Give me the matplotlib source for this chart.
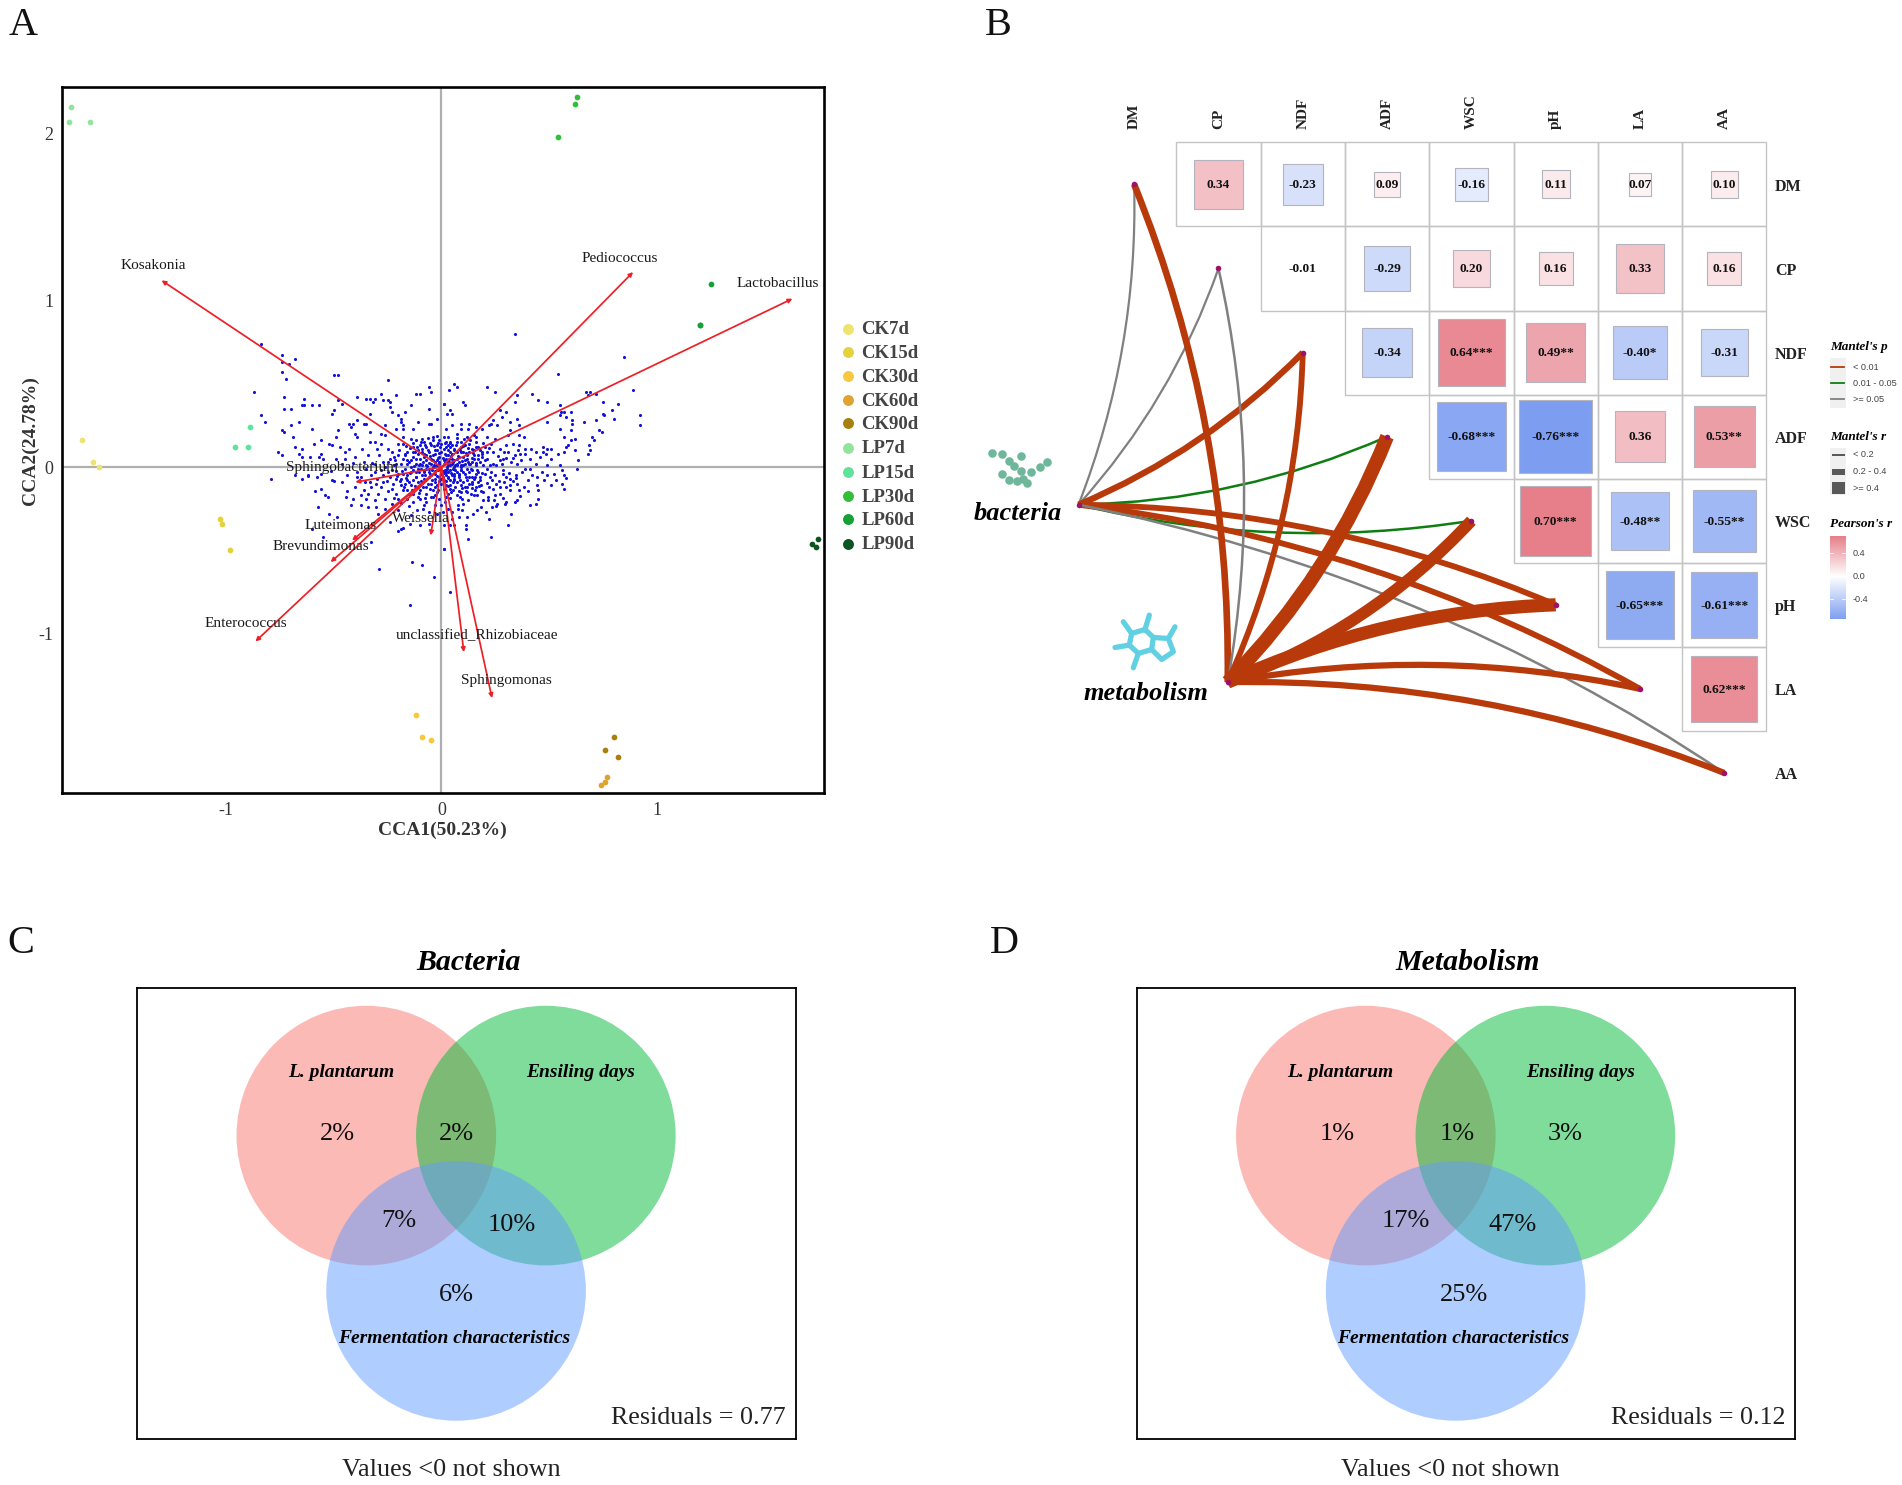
import numpy as np
import matplotlib
matplotlib.use("Agg")
import matplotlib.pyplot as plt
from matplotlib.patches import Rectangle, Circle, PathPatch
from matplotlib.path import Path
from matplotlib.colors import LinearSegmentedColormap, TwoSlopeNorm

plt.rcParams['font.family'] = ['Liberation Serif', 'DejaVu Serif']
plt.rcParams['axes.unicode_minus'] = False

# ------------------------------ Panel A data ------------------------------
groups = ['CK7d', 'CK15d', 'CK30d', 'CK60d', 'CK90d', 'LP7d', 'LP15d', 'LP30d', 'LP60d', 'LP90d']
group_colors = ['#EEE36F', '#E5D13A', '#F8C840', '#E0A32E', '#A67F10',
                '#92E49B', '#5FE39A', '#33BE3A', '#17A035', '#0C5420']
sample_x = [[-1.67, -1.62, -1.59], [-1.03, -1.02, -0.98], [-0.12, -0.09, -0.05],
            [0.74, 0.76, 0.77], [0.80, 0.76, 0.82], [-1.73, -1.72, -1.63],
            [-0.96, -0.90, -0.89], [0.54, 0.62, 0.63], [1.25, 1.20, 1.20], [1.72, 1.75, 1.74]]
sample_y = [[0.16, 0.03, 0.0], [-0.31, -0.34, -0.50], [-1.49, -1.62, -1.64],
            [-1.91, -1.89, -1.86], [-1.62, -1.70, -1.74], [2.07, 2.16, 2.07],
            [0.12, 0.12, 0.24], [1.98, 2.18, 2.22], [1.10, 0.85, 0.85], [-0.46, -0.43, -0.48]]

genera = ['Kosakonia', 'Pediococcus', 'Lactobacillus', 'Sphingobacterium', 'Luteimonas',
          'Brevundimonas', 'Enterococcus', 'Weissella', 'unclassified_Rhizobiaceae', 'Sphingomonas']
genus_x = [-1.30, 0.89, 1.63, -0.40, -0.415, -0.515, -0.864, -0.05, 0.104, 0.235]
genus_y = [1.12, 1.17, 1.01, -0.09, -0.44, -0.57, -1.046, -0.41, -1.11, -1.386]
label_x = [-1.34, 0.83, 1.56, -0.46, -0.47, -0.56, -0.91, -0.095, 0.165, 0.30]
label_y = [1.21, 1.25, 1.10, 0.0, -0.35, -0.475, -0.94, -0.31, -1.01, -1.28]

otu_upper_left = [
(-0.84,0.74),(-0.74,0.67),(-0.74,0.63),(-0.68,0.65),(-0.71,0.62),(-0.74,0.57),(-0.72,0.53),(-0.87,0.45),
(-0.73,0.42),(-0.50,0.55),(-0.48,0.55),(-0.25,0.52),(-0.06,0.48),(-0.05,0.45),(-0.64,0.41),(-0.65,0.37),
(-0.64,0.37),(-0.60,0.37),(-0.57,0.37),(-0.73,0.35),(-0.70,0.35),(-0.48,0.40),(-0.46,0.38),(-0.39,0.42),
(-0.35,0.41),(-0.33,0.41),(-0.31,0.41),(-0.32,0.39),(-0.28,0.44),(-0.21,0.43),(-0.12,0.44),(-0.10,0.44),
(-0.27,0.40),(-0.25,0.40),(-0.24,0.39),(-0.24,0.36),(-0.23,0.33),(-0.17,0.33),(-0.14,0.37),(-0.06,0.35),
(0.01,0.38),(-0.51,0.32),(-0.50,0.34),(-0.84,0.31),(-0.82,0.27),(-0.70,0.25),(-0.66,0.27),(-0.43,0.26),
(-0.41,0.26),(-0.42,0.24),(-0.39,0.28),(-0.36,0.26),(-0.35,0.26),(-0.33,0.32),(-0.26,0.25),(-0.20,0.31),
(-0.19,0.29),(-0.19,0.27),(-0.18,0.25),(-0.21,0.23),(-0.18,0.23),(-0.13,0.23),(-0.11,0.27),(-0.06,0.26),
(-0.05,0.26),(-0.02,0.29),(-0.74,0.22),(-0.73,0.21),(-0.69,0.18),(-0.60,0.23),(-0.48,0.22),(-0.49,0.18),
(-0.56,0.16),(-0.59,0.14),(-0.40,0.20),(-0.39,0.18),(-0.33,0.21),(-0.28,0.20),(-0.26,0.19),(-0.18,0.18),
(-0.14,0.17),(-0.12,0.16),(-0.09,0.17),(-0.04,0.18),(-0.33,0.15),(-0.31,0.15),(-0.28,0.14),(-0.52,0.14),
(-0.51,0.13),(-0.68,0.12),(-0.65,0.11),(-0.76,0.09),(-0.74,0.07),(-0.66,0.08),(-0.56,0.08),(-0.47,0.12),
(-0.43,0.11),(-0.45,0.09),(-0.37,0.11),(-0.30,0.11),(-0.25,0.11),(-0.20,0.14),(-0.18,0.14),(-0.65,0.06),
(-0.61,0.06),(-0.57,0.06),(-0.55,0.05),(-0.49,0.05),(-0.45,0.05),(-0.40,0.06),(-0.34,0.07),(-0.29,0.07),
(-0.23,0.09),(-0.22,0.06),(-0.17,0.08),(-0.13,0.09),(-0.36,0.03),(-0.31,0.02),(-0.25,0.03),(-0.21,0.02),
(-0.16,0.04),(-0.12,0.05),(-0.09,0.11),(-0.07,0.07),(-0.05,0.13),(-0.02,0.10),(-0.10,0.02),(-0.04,0.04)]
otu_upper_right = [
(0.34,0.80),(0.85,0.66),(0.54,0.56),(0.06,0.50),(0.07,0.48),(0.035,0.46),(0.21,0.48),(0.25,0.45),(0.42,0.44),
(0.35,0.43),(0.67,0.45),(0.69,0.45),(0.72,0.44),(0.89,0.46),(0.68,0.43),(0.10,0.39),(0.11,0.37),(0.01,0.38),
(0.34,0.39),(0.45,0.40),(0.49,0.39),(0.75,0.39),(0.82,0.38),(0.55,0.37),(0.27,0.34),(0.30,0.33),(0.04,0.34),
(0.025,0.32),(0.05,0.32),(0.28,0.30),(0.555,0.33),(0.57,0.33),(0.60,0.33),(0.55,0.31),(0.58,0.30),(0.75,0.32),
(0.79,0.34),(0.80,0.29),(0.755,0.31),(0.605,0.28),(0.605,0.26),(0.66,0.27),(0.72,0.28),(0.92,0.31),(0.92,0.25),
(0.35,0.29),(0.32,0.27),(0.36,0.25),(0.49,0.27),(0.24,0.28),(0.23,0.26),(0.22,0.25),(0.26,0.25),(0.09,0.26),
(0.13,0.26),(0.05,0.25),(0.09,0.23),(0.125,0.23),(0.16,0.24),(0.19,0.23),(0.02,0.23),(0.55,0.23),(0.60,0.22),
(0.73,0.22),(0.745,0.21),(0.32,0.22),(0.36,0.19),(0.385,0.18),(0.31,0.19),(0.07,0.20),(0.16,0.18),(0.21,0.18),
(0.25,0.17),(0.04,0.15),(0.12,0.18),(0.16,0.15),(0.57,0.18),(0.60,0.16),(0.62,0.17),(0.70,0.18),(0.71,0.16),
(0.685,0.13),(0.69,0.10),(0.68,0.08),(0.59,0.13),(0.58,0.12),(0.62,0.10),(0.33,0.14),(0.30,0.13),(0.36,0.13),
(0.39,0.11),(0.415,0.11),(0.355,0.10),(0.44,0.09),(0.47,0.12),(0.49,0.11),(0.47,0.09),(0.485,0.08),(0.51,0.11),
(0.46,0.06),(0.54,0.08),(0.57,0.09),(0.635,0.04),(0.51,0.05),(0.24,0.09),(0.29,0.09),(0.31,0.09),(0.34,0.07),
(0.39,0.08),(0.41,0.05),(0.365,0.08),(0.21,0.05),(0.27,0.04),(0.285,0.05),(0.325,0.03),(0.37,0.04),(0.44,0.02),
(0.49,0.01),(0.55,0.015),(0.225,0.01),(0.19,0.08),(0.19,0.06),(0.15,0.07),(0.17,0.12),(0.20,0.12),(0.13,0.09),
(0.09,0.12),(0.09,0.09),(0.06,0.11),(0.04,0.12),(0.02,0.15),(0.01,0.18),(0.0,0.14),(0.02,0.07),(0.05,0.05),
(0.07,0.02),(0.09,0.0),(0.11,0.04),(0.13,0.02),(0.16,0.01),(0.18,0.03),(0.06,0.0),(0.03,0.10),(0.07,0.15),
(0.11,0.13),(0.14,0.11),(0.03,0.03),(0.08,0.06),(0.23,0.14),(0.27,0.11),(0.24,0.02)]
otu_lower_right = [
(0.63,-0.01),(0.56,-0.015),(0.57,-0.05),(0.58,-0.065),(0.525,-0.04),(0.49,-0.05),(0.475,-0.08),(0.445,-0.06),
(0.42,-0.05),(0.40,-0.08),(0.53,-0.08),(0.51,-0.11),(0.56,-0.10),(0.57,-0.13),(0.445,-0.11),(0.45,-0.14),
(0.45,-0.19),(0.44,-0.22),(0.41,-0.23),(0.36,-0.14),(0.35,-0.20),(0.34,-0.21),(0.345,-0.05),(0.345,-0.065),
(0.30,-0.06),(0.32,-0.07),(0.33,-0.085),(0.32,-0.11),(0.30,-0.12),(0.32,-0.14),(0.27,-0.12),(0.255,-0.10),
(0.24,-0.13),(0.27,-0.16),(0.25,-0.17),(0.295,-0.22),(0.30,-0.21),(0.26,-0.22),(0.245,-0.20),(0.215,-0.18),
(0.215,-0.20),(0.235,-0.24),(0.185,-0.24),(0.205,-0.27),(0.22,-0.31),(0.325,-0.28),(0.31,-0.35),(0.23,-0.42),
(0.125,-0.43),(0.115,-0.35),(0.115,-0.37),(0.04,-0.35),(0.06,-0.345),(0.01,-0.35),(0.01,-0.49),(0.04,-0.75),
(0.05,-0.31),(0.12,-0.30),(0.08,-0.30),(0.005,-0.27),(0.145,-0.28),(0.165,-0.26),(0.095,-0.26),(0.075,-0.25),
(0.03,-0.25),(0.05,-0.27),(0.0,-0.23),(0.075,-0.225),(0.10,-0.22),(0.095,-0.19),(0.125,-0.20),(0.15,-0.17),
(0.165,-0.17),(0.195,-0.20),(0.155,-0.14),(0.195,-0.15),(0.22,-0.12),(0.185,-0.11),(0.18,-0.08),(0.15,-0.07),
(0.13,-0.10),(0.11,-0.12),(0.09,-0.11),(0.06,-0.08),(0.08,-0.05),(0.11,-0.04),(0.04,-0.11),(0.055,-0.14),
(0.03,-0.16),(0.02,-0.18),(0.225,-0.06),(0.25,-0.05),(0.235,-0.08),(0.285,-0.02),(0.285,-0.04),(0.39,-0.01),
(0.41,-0.01),(0.465,-0.03),(0.17,-0.03),(0.21,-0.01),(0.13,-0.06),(0.06,-0.04),(0.03,-0.06),(0.01,-0.08),
(0.02,-0.03),(0.09,-0.02),(0.14,-0.02),(0.16,-0.12),(0.07,-0.17),(0.12,-0.15),(0.09,-0.15)]
otu_lower_left = [
(-0.79,-0.07),(-0.68,-0.045),(-0.65,-0.07),(-0.62,-0.055),(-0.58,-0.06),(-0.51,-0.08),(-0.50,-0.085),
(-0.585,-0.145),(-0.56,-0.13),(-0.54,-0.17),(-0.525,-0.18),(-0.575,-0.24),(-0.52,-0.28),(-0.485,-0.30),
(-0.44,-0.145),(-0.445,-0.18),(-0.41,-0.19),(-0.42,-0.225),(-0.375,-0.23),(-0.34,-0.24),(-0.305,-0.24),
(-0.31,-0.20),(-0.35,-0.19),(-0.375,-0.17),(-0.36,-0.14),(-0.34,-0.16),(-0.325,-0.12),(-0.355,-0.09),
(-0.28,-0.12),(-0.295,-0.16),(-0.26,-0.19),(-0.26,-0.25),(-0.295,-0.28),(-0.60,-0.37),(-0.55,-0.42),
(-0.325,-0.45),(-0.29,-0.61),(-0.135,-0.57),(-0.09,-0.59),(-0.035,-0.66),(0.01,-0.49),(-0.145,-0.83),
(-0.20,-0.385),(-0.18,-0.365),(-0.19,-0.37),(-0.24,-0.33),(-0.145,-0.34),(-0.10,-0.35),(-0.06,-0.34),
(-0.085,-0.25),(-0.14,-0.29),(-0.20,-0.26),(-0.23,-0.22),(-0.20,-0.19),(-0.21,-0.16),(-0.23,-0.13),
(-0.225,-0.10),(-0.19,-0.11),(-0.16,-0.14),(-0.13,-0.16),(-0.16,-0.19),(-0.13,-0.21),(-0.10,-0.19),
(-0.08,-0.23),(-0.05,-0.18),(-0.03,-0.23),(-0.16,-0.08),(-0.21,-0.07),(-0.24,-0.06),(-0.27,-0.05),
(-0.30,-0.07),(-0.325,-0.05),(-0.44,-0.05),(-0.39,-0.06),(-0.56,-0.04),(-0.62,-0.05),(-0.12,-0.06),
(-0.09,-0.09),(-0.07,-0.12),(-0.04,-0.14),(-0.11,-0.12),(-0.18,-0.04),(-0.14,-0.03),(-0.08,-0.03),
(-0.05,-0.05),(-0.03,-0.09),(-0.02,-0.02),(-0.06,-0.01),(-0.10,-0.14),(-0.06,-0.27),(-0.02,-0.28)]
otu_core = [
(-0.02,0.01),(0.01,0.02),(0.015,-0.015),(-0.015,-0.02),(0.03,0.01),(0.04,-0.02),(0.05,0.02),(-0.03,0.03),
(-0.04,0.0),(-0.05,0.02),(-0.06,-0.03),(-0.03,-0.04),(0.0,-0.04),(0.02,-0.05),(0.05,-0.05),(0.07,-0.03),
(0.08,0.03),(0.06,0.04),(0.02,0.05),(-0.01,0.06),(-0.04,0.07),(-0.07,0.04),(-0.09,0.01),(-0.08,-0.02),
(-0.11,-0.01),(-0.12,0.02),(-0.10,0.05),(-0.06,0.09),(-0.03,0.10),(0.0,0.09),(0.03,0.07),(0.05,0.08),
(0.10,0.06),(0.12,0.05),(0.14,0.03),(0.12,-0.01),(0.10,-0.03),(0.08,-0.06),(0.04,-0.08),(0.0,-0.07),
(-0.03,-0.07),(-0.06,-0.06),(-0.09,-0.05),(-0.12,-0.03),(-0.14,0.0),(-0.15,0.03),(-0.13,0.06),(-0.11,0.08),
(-0.08,0.08),(-0.13,-0.08),(-0.16,-0.05),(-0.17,-0.01),(-0.19,0.02),(-0.18,0.05),(-0.20,0.07),(-0.16,0.09),
(-0.13,0.12),(-0.10,0.13),(-0.07,0.12),(-0.04,0.16),(-0.02,0.13),(0.01,0.11),(0.04,0.09),(0.07,0.09),
(0.10,0.09),(0.12,0.07),(0.15,0.05),(0.17,0.05),(0.16,-0.04),(0.14,-0.06),(0.12,-0.08),(0.10,-0.09),
(0.07,-0.09),(0.04,-0.13),(0.02,-0.11),(0.0,-0.10),(-0.02,-0.11),(-0.05,-0.10),(-0.08,-0.07),(-0.11,-0.09),
(-0.14,-0.11),(-0.17,-0.10),(-0.20,-0.04),(-0.23,-0.02),(-0.26,0.0),(-0.28,-0.02),(-0.31,-0.03),(-0.24,0.05),
(-0.01,0.02),(0.025,0.0),(-0.025,0.005),(0.005,-0.025),(0.035,0.03),(-0.045,-0.02),(0.055,-0.01),(0.065,0.01),
(-0.07,0.01),(0.09,0.01),(0.03,-0.03),(0.01,0.04),(-0.02,0.04),(-0.05,0.05),(0.07,0.05),(0.11,0.02),
(-0.01,-0.06),(0.06,-0.07),(0.03,0.13),(-0.01,0.16),(0.05,0.13),(0.09,0.15),(-0.08,0.15),(-0.11,0.10),
(0.13,0.14),(0.15,0.10),(0.18,0.10),(0.21,0.09),(0.20,-0.04),(0.18,-0.06),(0.17,-0.09),(0.14,-0.10),
(0.12,-0.12),(-0.02,-0.15),(-0.04,-0.18),(-0.07,-0.16),(-0.11,-0.18),(-0.15,-0.16),(-0.18,-0.14),(-0.19,-0.07)]
otu_dense = [
(-0.035,0.015),(-0.012,0.032),(0.018,0.028),(0.042,0.012),(0.028,-0.012),(-0.008,-0.012),(-0.028,-0.026),
(0.012,-0.036),(0.046,-0.034),(0.062,-0.018),(0.072,0.014),(0.052,0.032),(0.034,0.048),(0.008,0.052),
(-0.018,0.052),(-0.042,0.042),(-0.058,0.026),(-0.066,0.004),(-0.072,-0.014),(-0.052,-0.042),(-0.022,-0.056),
(0.008,-0.058),(0.032,-0.064),(0.058,-0.056),(0.082,-0.042),(0.092,-0.016),(0.102,0.012),(0.094,0.038),
(0.076,0.064),(0.046,0.068),(0.018,0.076),(-0.012,0.082),(-0.028,0.076),(-0.052,0.068),(-0.082,0.058),
(-0.088,0.032),(-0.102,0.014),(-0.096,-0.012),(-0.102,-0.032),(-0.078,-0.048),(-0.046,-0.078),(-0.012,-0.086),
(0.022,-0.086),(0.052,-0.092),(0.086,-0.078),(0.112,-0.058),(0.126,-0.032),(0.136,-0.012),(0.134,0.018),
(0.122,0.032),(0.144,0.052),(0.112,0.082),(0.086,0.104),(0.056,0.102),(0.022,0.118),(-0.006,0.122),
(-0.036,0.124),(-0.062,0.104),(-0.092,0.092),(-0.122,0.088),(-0.142,0.044),(-0.128,0.008),(-0.132,-0.016),
(-0.146,-0.036),(-0.118,-0.062),(-0.094,-0.082),(-0.062,-0.102),(-0.032,-0.122),(0.012,-0.132),(0.032,-0.112),
(0.064,-0.122),(0.096,-0.126),(0.142,-0.088),(0.158,-0.062),(0.166,-0.018),(0.162,0.024),(0.172,0.072),
(0.148,0.084),(0.122,0.112),(0.098,0.124),(0.066,0.132),(0.042,0.142),(0.018,0.144),(-0.018,0.146),
(-0.052,0.146),(-0.078,0.132),(-0.112,0.122),(-0.148,0.112),(-0.168,0.072),(-0.162,0.016),(-0.182,-0.024),
(-0.166,-0.066),(-0.152,-0.092),(-0.122,-0.112),(-0.086,-0.122),(-0.052,-0.132),(-0.016,-0.136),(0.046,-0.152),
(0.082,-0.146),(0.112,-0.142),(0.142,-0.126),(0.176,-0.112),(0.188,-0.036),(0.192,0.012),(0.204,0.044),
(0.186,0.092),(0.162,0.122),(0.132,0.162),(0.104,0.166),(0.072,0.176),(0.032,0.182),(-0.022,0.186),
(-0.062,0.172),(-0.096,0.152),(-0.132,0.142),(-0.166,0.128),(-0.196,0.104),(-0.214,0.044),(-0.222,0.012),
(-0.212,-0.022),(-0.208,-0.056),(-0.192,-0.086),(-0.172,-0.122),(-0.136,-0.136),(-0.106,-0.156),(-0.078,-0.186),
(-0.032,-0.168),(-0.012,-0.192),(0.018,-0.208),(0.042,-0.186),(0.086,-0.182),(0.136,-0.162),(0.182,-0.142),
(0.212,-0.096),(0.232,-0.032),(0.252,0.012),(0.262,0.068),(0.222,0.112),(0.192,0.142),(0.152,0.192),
(0.266,-0.086),(0.292,-0.092),(0.312,-0.036),(0.282,0.016),(0.302,0.052),(0.332,0.052),(0.352,0.016),
(0.376,-0.032),(0.352,-0.102),(0.382,-0.122),(0.402,-0.146),(0.366,-0.176),(0.286,-0.186),(0.252,-0.232),
(-0.246,-0.032),(-0.252,-0.082),(-0.272,-0.092),(-0.302,-0.102),(-0.246,-0.146),(-0.222,-0.186),(-0.186,-0.216),
(-0.152,-0.236),(-0.112,-0.256),(-0.072,-0.212),(-0.272,0.032),(-0.322,0.022),(-0.352,-0.012),(-0.392,-0.032),
(-0.412,0.022),(-0.462,0.018),(-0.512,-0.022),(-0.462,-0.092),(-0.402,-0.122),(-0.372,-0.062),(-0.332,-0.092)]
otu = otu_upper_left + otu_upper_right + otu_lower_right + otu_lower_left + otu_core + otu_dense
otu_x = [p[0] for p in otu]
otu_y = [p[1] for p in otu]

# ------------------------------ Panel B data ------------------------------
variables = ['DM', 'CP', 'NDF', 'ADF', 'WSC', 'pH', 'LA', 'AA']
corr_r = [[0.34, -0.23, 0.09, -0.16, 0.11, 0.07, 0.10],
          [-0.01, -0.29, 0.20, 0.16, 0.33, 0.16],
          [-0.34, 0.64, 0.49, -0.40, -0.31],
          [-0.68, -0.76, 0.36, 0.53],
          [0.70, -0.48, -0.55],
          [-0.65, -0.61],
          [0.62]]
corr_sig = [['', '', '', '', '', '', ''],
            ['', '', '', '', '', ''],
            ['', '***', '**', '*', ''],
            ['***', '***', '', '**'],
            ['***', '**', '**'],
            ['***', '***'],
            ['***']]
p_colors = ['#B83A0A', '#0E7E12', '#808080']
p_labels = ['< 0.01', '0.01 - 0.05', '>= 0.05']
r_labels = ['< 0.2', '0.2 - 0.4', '>= 0.4']
# index of p class, line width class per variable
bact_p = [2, 2, 0, 1, 1, 0, 0, 2]
bact_w = [1.6, 1.6, 4.5, 1.8, 1.8, 4.2, 4.2, 1.8]
bact_curv = [-.1, -.1, -.1, -.1, -.1, .1, .1, .1]
meta_p = [0, 2, 0, 0, 0, 0, 0, 0]
meta_w = [4.8, 1.8, 4.2, 10.0, 8.5, 9.5, 4.5, 4.5]
meta_curv = [-.1, -.1, -.1, -.1, -.12, .1, .1, .1]

# ------------------------------ Panels C/D data ---------------------------
venn_sets = ['L. plantarum', 'Ensiling days', 'Fermentation characteristics']
venn_colors = ['#F8766D', '#00BA38', '#619CFF']
bacteria_pct = ['2%', '2%', '7%', '10%', '6%']
metabolism_pct = ['1%', '1%', '3%', '17%', '47%', '25%']
residuals = ['Residuals = 0.77', 'Residuals = 0.12']

# ------------------------------ layout ------------------------------------
W, H = 1568, 1224
S = 1902 / 1568
fig = plt.figure(figsize=(19.02, 14.85), dpi=100, facecolor='white')

def box(l, t, r, b):
    return fig.add_axes([l / W, 1 - b / H, (r - l) / W, (b - t) / H])

# page overlay measured in overview pixels for letters, legends, icons
page = box(0, 0, W, H)
page.set_xlim(0, W); page.set_ylim(H, 0); page.axis('off')

for s, x, y in [('A', 19, 21), ('B', 823, 21), ('C', 17, 778), ('D', 828, 778)]:
    page.text(x, y, s, fontsize=29, ha='center', va='center', color='#111111')

# ------------------------------ Panel A -----------------------------------
ax = box(51, 72, 679, 654)
ax.set_xlim(-1.763, 1.775); ax.set_ylim(-1.958, 2.278)
ax.axhline(0, color='#AFAFAF', lw=1.6, zorder=1)
ax.axvline(0, color='#AFAFAF', lw=1.6, zorder=1)
ax.scatter(otu_x, otu_y, s=5, color='#1212D8', linewidths=0, zorder=2)
for g, c, xs, ys in zip(groups, group_colors, sample_x, sample_y):
    ax.scatter(xs, ys, s=17, color=c, linewidths=0, zorder=3)
for gx, gy, name, lx, ly in zip(genus_x, genus_y, genera, label_x, label_y):
    ax.annotate('', xy=(gx, gy), xytext=(0, 0), zorder=4,
                arrowprops=dict(arrowstyle='-|>', color='#EC2027', lw=1.25,
                                mutation_scale=6, shrinkA=0, shrinkB=0))
    ax.text(lx, ly, name, fontsize=11, ha='center', va='center', color='#1a1a1a', zorder=5)
ax.set_xticks([-1, 0, 1]); ax.set_yticks([-1, 0, 1, 2])
ax.set_xticklabels(['-1', '0', '1'], fontsize=13, color='#333333')
ax.set_yticklabels(['-1', '0', '1', '2'], fontsize=13, color='#333333')
ax.tick_params(length=0, pad=6)
for sp in ax.spines.values():
    sp.set_linewidth(1.9)
ax.set_xlabel('CCA1(50.23%)', fontsize=14, fontweight='bold', color='#333333', labelpad=2)
ax.set_ylabel('CCA2(24.78%)', fontsize=14, fontweight='bold', color='#333333', labelpad=0)

leg_y = [272, 291, 311, 331, 350, 370, 390, 410, 429, 449]
for g, c, y in zip(groups, group_colors, leg_y):
    page.scatter([699], [y - 1], s=62, color=c, linewidths=0)
    page.text(710, y, g, fontsize=13.5, fontweight='bold', color='#444444', ha='left', va='center')

# ------------------------------ Panel B -----------------------------------
DX, DY = 69.5, 69.3
bl, bt, br, bb = 780, 60, 1568, 680
bax = box(bl, bt, br, bb)
bax.set_xlim((bl - 935) / DX, (br - 935) / DX)
bax.set_ylim((bb - 152) / DY, (bt - 152) / DY)
bax.axis('off')
cmap = LinearSegmentedColormap.from_list('pr', ['#7C9DF0', '#FFFFFF', '#E67F8A'])
norm = TwoSlopeNorm(vcenter=0, vmin=-0.76, vmax=0.70)

for i, (row, sig) in enumerate(zip(corr_r, corr_sig)):
    for k, (r, st) in enumerate(zip(row, sig)):
        j = i + 1 + k
        bax.add_patch(Rectangle((j - .5, i - .5), 1, 1, fc='none', ec='#C4C4C4', lw=1.0, zorder=1))
        side = np.sqrt(abs(r))
        if abs(r) >= 0.05:
            bax.add_patch(Rectangle((j - side / 2, i - side / 2), side, side, fc=cmap(norm(r)),
                                    ec='#B4B4BE', lw=0.8, zorder=2))
        bax.text(j, i + 0.01, f'{r:.2f}{st}', fontsize=9.6, fontweight='bold', ha='center', va='center',
                 color='#111111', zorder=3)
for i, v in enumerate(variables):
    bax.text(i, -0.66, v, rotation=90, fontsize=11, fontweight='bold', ha='center', va='bottom', color='#222222')
    bax.text(7.60, i + 0.03, v, fontsize=11.5, fontweight='bold', ha='left', va='center', color='#222222')

bact_xy = (-0.66, 3.81)
meta_xy = (1.11, 5.92)

def link(start, end, curv, color, width):
    sx, sy = start
    ex, ey = end
    dx, dy = ex - sx, ey - sy
    cx = (sx + ex) / 2 + curv * dy
    cy = (sy + ey) / 2 - curv * dx
    bax.add_patch(PathPatch(Path([start, (cx, cy), end], [Path.MOVETO, Path.CURVE3, Path.CURVE3]),
                            fc='none', ec=color, lw=width, capstyle='butt', zorder=4))

for i in range(8):
    link(bact_xy, (i, i), bact_curv[i], p_colors[bact_p[i]], bact_w[i])
for i in range(8):
    link(meta_xy, (i, i), meta_curv[i], p_colors[meta_p[i]], meta_w[i])
node_x = list(range(8)) + [bact_xy[0], meta_xy[0]]
node_y = list(range(8)) + [bact_xy[1], meta_xy[1]]
bax.scatter(node_x, node_y, s=16, color='#A0106A', linewidths=0, zorder=5)

page.text(839, 423, 'bacteria', fontsize=19, fontweight='bold', fontstyle='italic', ha='center', va='center')
page.text(945, 572, 'metabolism', fontsize=19, fontweight='bold', fontstyle='italic', ha='center', va='center')
bug_x = [818, 825.7, 831.7, 835.7, 842, 842, 849.7, 857, 863, 825.7, 831.7, 838, 847, 843]
bug_y = [373, 374.4, 379.8, 384.3, 376, 388, 388.7, 385, 381, 391, 395.4, 396.8, 397.7, 394.6]
page.scatter(bug_x, bug_y, s=38, color='#6FB79B', linewidths=0)
mol = [[(435, 88), (460, 112), (455, 148), (415, 160), (388, 135), (395, 100), (435, 88)],
       [(460, 112), (505, 115), (520, 155), (485, 178), (455, 148)],
       [(395, 100), (370, 65)], [(435, 88), (448, 45)], [(505, 115), (525, 80)],
       [(388, 135), (345, 142)], [(415, 160), (400, 203)]]
for seg in mol:
    page.plot([(1000 + p[0] / 3) / S for p in seg], [(600 + p[1] / 3) / S for p in seg],
              color='#62D0E3', lw=3.8, solid_capstyle='round', solid_joinstyle='round')

# B legends, sizes in overview pixels
tx = 1527.6
lfs = 6.6
page.add_patch(Rectangle((1508.5, 295), 13, 41, fc='#F0F0F0', ec='none'))
page.text(1508.5, 286, "Mantel's p", fontsize=9.5, fontweight='bold', fontstyle='italic', ha='left', va='center')
for y, c, l in zip([302.5, 316, 329], p_colors, p_labels):
    page.plot([1509.5, 1520.5], [y, y], color=c, lw=1.3)
    page.text(tx, y, l, fontsize=lfs, family='Liberation Sans', color='#444444', ha='left', va='center')
page.add_patch(Rectangle((1508.5, 369), 13, 39, fc='#F0F0F0', ec='none'))
page.text(1508.5, 360, "Mantel's r", fontsize=9.5, fontweight='bold', fontstyle='italic', ha='left', va='center')
for y, h, l in zip([375, 389, 402.5], [1.5, 5, 10], r_labels):
    page.add_patch(Rectangle((1510, y - h / 2), 11, h, fc='#595959', ec='none'))
    page.text(tx, y, l, fontsize=lfs, family='Liberation Sans', color='#444444', ha='left', va='center')
page.text(1508.5, 432, "Pearson's r", fontsize=9.5, fontweight='bold', fontstyle='italic', ha='left', va='center')
cb = box(1508.5, 442, 1521.5, 510)
cb.imshow(np.linspace(0.70, -0.74, 200)[:, None], aspect='auto', cmap=cmap, norm=norm,
          extent=(0, 1, -0.74, 0.70))
cb.axis('off')
for v, y in zip([0.4, 0.0, -0.4], [456, 475, 494]):
    cb.plot([0, .2], [v, v], color='white', lw=.6)
    cb.plot([.8, 1], [v, v], color='white', lw=.6)
    cb.set_xlim(0, 1); cb.set_ylim(-0.74, 0.70)
    page.text(tx, y, f'{v:.1f}', fontsize=lfs, family='Liberation Sans', color='#444444', ha='left', va='center')

# ------------------------------ Panels C, D --------------------------------
circle_x = [189, 337, 263]
circle_y = [122, 122, 250]
circle_r = 107

def venn(left, title, pct, pct_x, pct_y, resid):
    a = box(left, 814, left + 543, 1186)
    a.set_xlim(0, 543); a.set_ylim(372, 0)
    a.set_xticks([]); a.set_yticks([])
    for sp in a.spines.values():
        sp.set_linewidth(1.3)
    for cx, cy, c in zip(circle_x, circle_y, venn_colors):
        a.add_patch(Circle((cx, cy), circle_r, fc=c, ec='none', alpha=0.5))
    for name, x, y in zip(venn_sets, [168, 366, 261], [70, 70, 289]):
        a.text(x, y, name, fontsize=14, fontweight='bold', fontstyle='italic', ha='center', va='center')
    for p, x, y in zip(pct, pct_x, pct_y):
        a.text(x, y, p, fontsize=19, ha='center', va='center', color='#111111')
    a.text(535, 355, resid, fontsize=18.7, ha='right', va='center', color='#222222')
    a.text(259, 398, 'Values <0 not shown', fontsize=18.8, ha='center', va='center', color='#222222', clip_on=False)
    a.text(273, -21, title, fontsize=21.5, fontweight='bold', fontstyle='italic', ha='center', va='center', clip_on=False)

venn(113, 'Bacteria', bacteria_pct, [165, 263, 216, 309, 263], [121, 121, 192, 196, 253], residuals[0])
venn(937, 'Metabolism', metabolism_pct, [165, 264, 353, 222, 310, 270], [121, 121, 121, 192, 196, 253], residuals[1])

fig.savefig('out.png', dpi=100, facecolor='white')
